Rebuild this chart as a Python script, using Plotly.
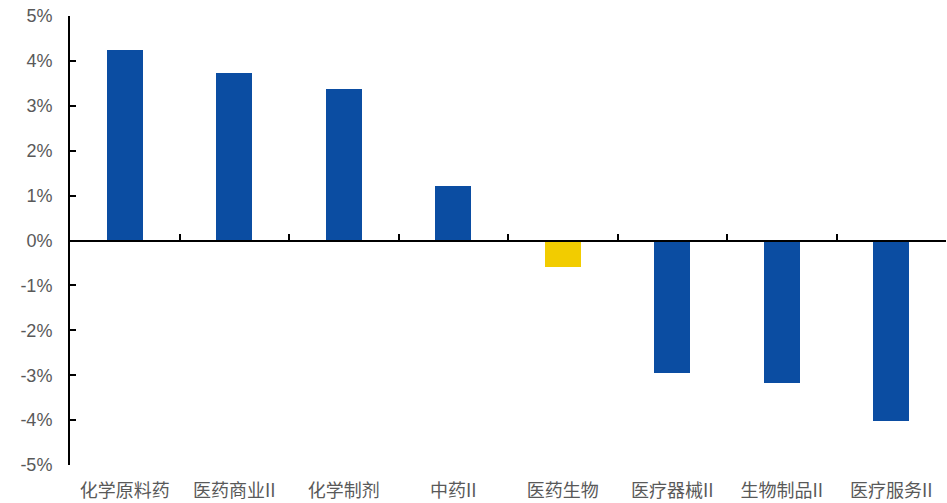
import plotly.graph_objects as go

categories = ["化学原料药", "医药商业II", "化学制剂", "中药II", "医药生物", "医疗器械II", "生物制品II", "医疗服务II"]
values = [4.24, 3.72, 3.37, 1.22, -0.60, -2.94, -3.18, -4.03]
bar_colors = ["#0B4DA2", "#0B4DA2", "#0B4DA2", "#0B4DA2", "#F2CC00", "#0B4DA2", "#0B4DA2", "#0B4DA2"]
y_ticks = [-5, -4, -3, -2, -1, 0, 1, 2, 3, 4, 5]
y_tick_labels = [f"{v}%" for v in y_ticks]

n = len(categories)
fig = go.Figure()
fig.add_trace(go.Bar(
    x=list(range(n)), y=values, marker=dict(color=bar_colors, line=dict(width=0)),
    width=0.33, showlegend=False, hoverinfo="skip",
))
# invisible trace on second x axis so it renders
fig.add_trace(go.Scatter(x=[-0.5, n - 0.5], y=[0, 0], xaxis="x2", mode="lines",
                         line=dict(width=0), showlegend=False, hoverinfo="skip"))

fig.update_layout(
    width=947, height=503,
    margin=dict(l=70, r=1, t=16, b=38),
    paper_bgcolor="white", plot_bgcolor="white",
    font=dict(family="Liberation Sans, Arial", color="#595959"),
    bargap=0,
    xaxis=dict(
        range=[-0.5, n - 0.5], tickmode="array", tickvals=list(range(n)), ticktext=categories,
        showline=False, showgrid=False, zeroline=False, ticks="",
        tickfont=dict(family="Noto Sans CJK SC", size=18, color="#595959"),
        ticklabelstandoff=13,
    ),
    xaxis2=dict(
        overlaying="x", anchor="free", position=0.5, side="bottom",
        range=[-0.5, n - 0.5], tickmode="array", tickvals=[i + 0.5 for i in range(n)],
        showticklabels=False, showline=True, linecolor="black", linewidth=2,
        ticks="inside", ticklen=6, tickwidth=2, tickcolor="black",
        showgrid=False, zeroline=False,
    ),
    yaxis=dict(
        range=[-5, 5], tickmode="array", tickvals=y_ticks, ticktext=y_tick_labels,
        showline=True, linecolor="black", linewidth=2,
        ticks="inside", ticklen=6, tickwidth=2, tickcolor="black",
        showgrid=False, zeroline=False,
        tickfont=dict(family="Liberation Sans, Arial", size=18, color="#595959"),
        ticklabelstandoff=12,
    ),
)

fig.write_html("out.html")
